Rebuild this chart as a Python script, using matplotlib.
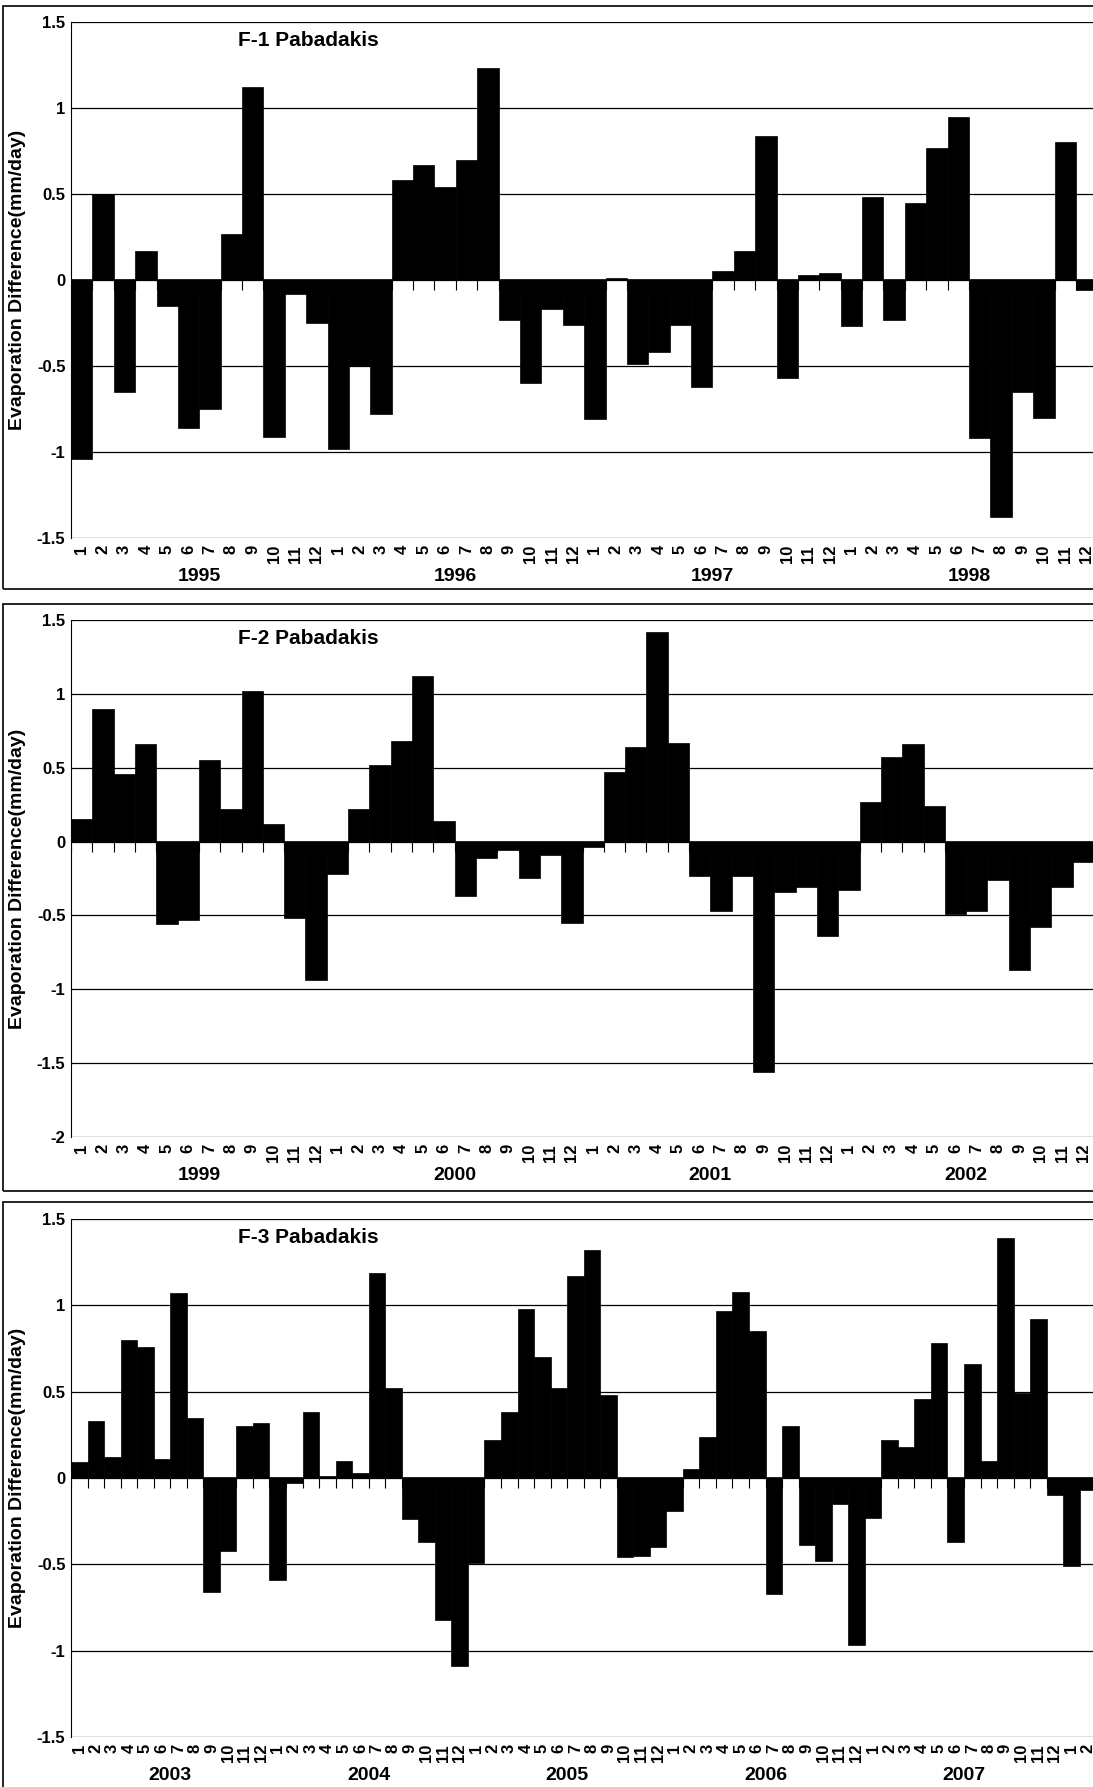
import numpy as np
import matplotlib
matplotlib.use('Agg')
import matplotlib.pyplot as plt
from matplotlib.patches import Rectangle

plt.rcParams['font.family'] = ['Liberation Sans Narrow', 'Liberation Sans', 'DejaVu Sans']

# monthly evaporation difference (mm/day)
f1_years = ['1995', '1996', '1997', '1998']
f1_vals = [-1.04, 0.50, -0.65, 0.17, -0.15, -0.86, -0.75, 0.27, 1.12, -0.91, -0.08, -0.25,
           -0.98, -0.50, -0.78, 0.58, 0.67, 0.54, 0.70, 1.23, -0.23, -0.60, -0.17, -0.26,
           -0.81, 0.01, -0.49, -0.42, -0.26, -0.62, 0.05, 0.17, 0.84, -0.57, 0.03, 0.04,
           -0.27, 0.48, -0.23, 0.45, 0.77, 0.95, -0.92, -1.38, -0.65, -0.80, 0.80, -0.06]

f2_years = ['1999', '2000', '2001', '2002']
f2_vals = [0.15, 0.90, 0.46, 0.66, -0.56, -0.53, 0.55, 0.22, 1.02, 0.12, -0.52, -0.94,
           -0.22, 0.22, 0.52, 0.68, 1.12, 0.14, -0.37, -0.11, -0.06, -0.25, -0.09, -0.55,
           -0.04, 0.47, 0.64, 1.42, 0.67, -0.23, -0.47, -0.23, -1.56, -0.34, -0.31, -0.64,
           -0.33, 0.27, 0.57, 0.66, 0.24, -0.49, -0.47, -0.26, -0.87, -0.58, -0.31, -0.14]

f3_years = ['2003', '2004', '2005', '2006', '2007']
f3_vals = [0.09, 0.33, 0.12, 0.80, 0.76, 0.11, 1.07, 0.35, -0.66, -0.42, 0.30, 0.32,
           -0.59, -0.03, 0.38, 0.01, 0.10, 0.03, 1.19, 0.52, -0.24, -0.37, -0.82, -1.09,
           -0.49, 0.22, 0.38, 0.98, 0.70, 0.52, 1.17, 1.32, 0.48, -0.46, -0.45, -0.40,
           -0.19, 0.05, 0.24, 0.97, 1.08, 0.85, -0.67, 0.30, -0.39, -0.48, -0.15, -0.97,
           -0.23, 0.22, 0.18, 0.46, 0.78, -0.37, 0.66, 0.10, 1.39, 0.49, 0.92, -0.10,
           -0.51, -0.07]

W, H = 1093, 1787
fig = plt.figure(figsize=(W / 100, H / 100), dpi=100)

panels = [
    ('F-1 Pabadakis', f1_vals, f1_years, (-1.5, 1.5), 47.3, (6, 589), (22, 538)),
    ('F-2 Pabadakis', f2_vals, f2_years, (-2, 1.5), 47.45, (604, 1191), (620, 1137)),
    ('F-3 Pabadakis', f3_vals, f3_years, (-1.5, 1.5), 61.3, (1202, 1800), (1219, 1737)),
]

left = 71
for title, vals, years, ylim, xmax, frame, axpix in panels:
    # panel frame
    fig.patches.append(Rectangle((3 / W, 1 - frame[1] / H), 1.2, (frame[1] - frame[0]) / H,
                                 transform=fig.transFigure, fill=False, ec='black', lw=1.2))
    ax = fig.add_axes([left / W, 1 - axpix[1] / H, (W - left) / W, (axpix[1] - axpix[0]) / H])
    x = np.arange(len(vals))
    ax.bar(x, vals, width=1.0, color='black', edgecolor='black', linewidth=0.5, zorder=3)
    ax.set_ylim(*ylim)
    ax.set_xlim(-0.5, xmax)
    yt = np.arange(ylim[0], ylim[1] + 0.01, 0.5)
    ax.set_yticks(yt)
    ax.set_yticklabels([('%g' % v) for v in yt], fontsize=12, fontweight='bold')
    ax.yaxis.grid(True, color='black', lw=0.9)
    ax.set_axisbelow(True)
    for s in ['top', 'right', 'bottom']:
        ax.spines[s].set_visible(False)
    ax.tick_params(axis='y', length=0, pad=4)
    ax.axhline(0, color='black', lw=1.2, zorder=2)
    # small tick marks at the zero line
    ax.vlines(np.arange(len(vals) + 1) - 0.5, 0, -0.02 * (ylim[1] - ylim[0]),
              color='black', lw=0.8, zorder=2)
    months = [str(m % 12 + 1) for m in range(len(vals))]
    ax.set_xticks(x)
    ax.set_xticklabels(months, rotation=90, fontsize=12, fontweight='bold')
    ax.tick_params(axis='x', length=0, pad=5)
    for i, yr in enumerate(years):
        ax.text(i * 12 + 5.5, -0.075, yr, transform=ax.get_xaxis_transform(),
                ha='center', va='center', fontsize=14, fontweight='bold')
    ax.text(0.232, 0.965, title, transform=ax.transAxes, ha='center', va='center',
            fontsize=15, fontweight='bold', family=['Liberation Sans', 'DejaVu Sans'])
    ax.set_ylabel('Evaporation Difference(mm/day)', fontsize=14, fontweight='bold',
                  family=['Liberation Sans', 'DejaVu Sans'], labelpad=8)

fig.savefig('out.png', dpi=100)
